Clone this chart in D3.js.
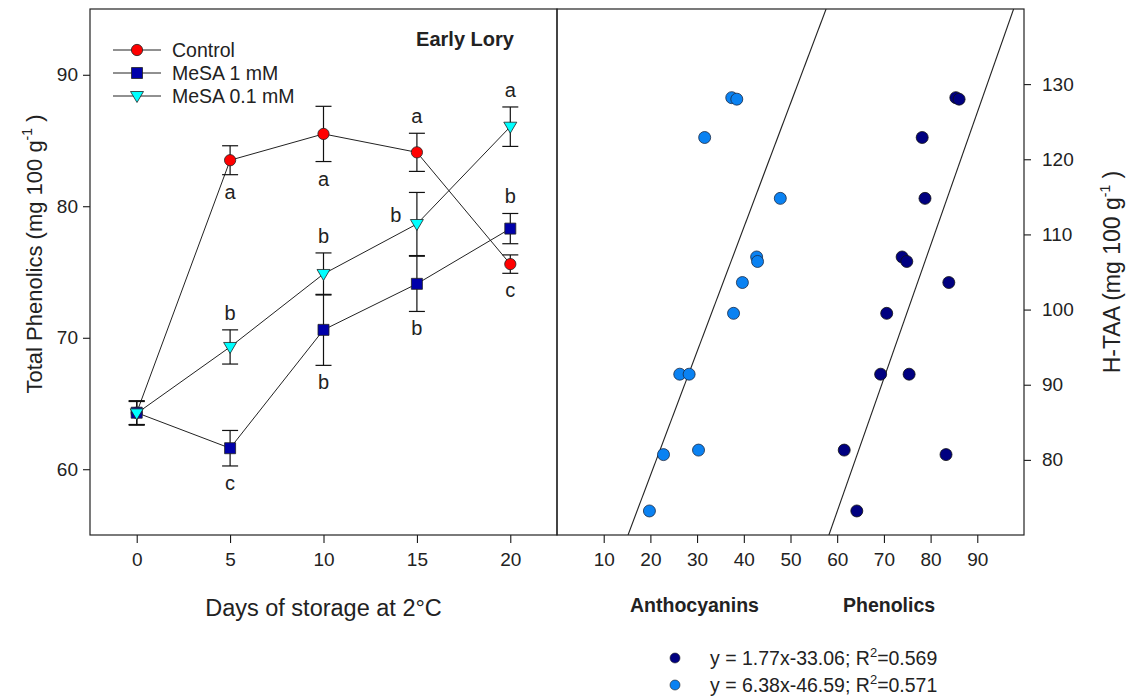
<!DOCTYPE html>
<html>
<head>
<meta charset="utf-8">
<script src="https://cdn.jsdelivr.net/npm/d3@7"></script>
<style>
  html, body { margin: 0; padding: 0; background: #fff; }
  svg { display: block; font-family: Arial, "Liberation Sans", sans-serif; }
</style>
</head>
<body>
<svg id="chart" width="1128" height="697"></svg>
<script>
// ---- Total phenolics during storage (left panel) ----
const days = [0, 5, 10, 15, 20];
const control   = [64.3, 83.5, 85.5, 84.1, 75.6];
const controlSE = [0.9, 1.1, 2.1, 1.45, 0.7];
const mesa1     = [64.3, 61.6, 70.6, 74.1, 78.3];
const mesa1SE   = [0.9, 1.35, 2.7, 2.1, 1.15];
const mesa01    = [64.25, 69.3, 74.85, 78.65, 86.05];
const mesa01SE  = [0.9, 1.3, 1.6, 2.4, 1.5];
const controlLetters = ["", "a", "a", "a", "c"];
const mesa1Letters   = ["", "c", "b", "b", "b"];
const mesa01Letters  = ["", "b", "b", "b", "a"];
const seriesNames = ["Control", "MeSA 1 mM", "MeSA 0.1 mM"];
const leftYTicks = [60, 70, 80, 90];
const leftXTicks = [0, 5, 10, 15, 20];

// ---- H-TAA correlations (right panel) ----
const htaa        = [128.2, 128.0, 122.9, 114.8, 107.0, 106.4, 103.6, 99.5, 91.4, 91.4, 81.3, 80.7, 73.2];
const phenolicsX  = [85.4, 86.1, 78.2, 78.8, 73.9, 74.9, 83.9, 70.6, 69.3, 75.4, 61.5, 83.3, 64.2];
const anthocyanX  = [24.02, 24.30, 22.52, 26.71, 25.40, 25.45, 24.61, 24.12, 21.14, 21.66, 22.18, 20.24, 19.46];
const phenolicsFit = { slope: 1.77, intercept: -33.06, r2: 0.569 };
const anthocyanFit = { slope: 6.38, intercept: -46.59, r2: 0.571 };
const rightXTicks = [10, 20, 30, 40, 50, 60, 70, 80, 90];
const rightYTicks = [80, 90, 100, 110, 120, 130];

const svg = d3.select("#chart");
const yTop = 9, yBottom = 535;
const lx0 = 90, lx1 = 557, rx1 = 1024;

const xDay  = d3.scaleLinear().domain([-2.5, 22.5]).range([lx0, lx1]);
const yPhen = d3.scaleLinear().domain([55, 95]).range([yBottom, yTop]);
const xCorr = d3.scaleLinear().domain([0, 100]).range([lx1, rx1]);
const xAnth = d3.scaleLinear().domain([14.34, 40.21]).range([lx1, rx1]);
const yTaa  = d3.scaleLinear().domain([70, 140]).range([yBottom, yTop]);

const tickFont = "19px";
const ink = "#222";

function styleAxis(g) {
  g.select(".domain").remove();
  g.selectAll(".tick line").attr("stroke", "#000").attr("stroke-width", 1);
  g.selectAll(".tick text").attr("fill", ink).style("font-size", tickFont)
    .style("font-family", "Arial, 'Liberation Sans', sans-serif");
}

// axes
svg.append("g").attr("transform", `translate(${lx0},0)`)
  .call(d3.axisLeft(yPhen).tickValues(leftYTicks).tickSize(7).tickPadding(5))
  .call(styleAxis);
svg.append("g").attr("transform", `translate(0,${yBottom})`)
  .call(d3.axisBottom(xDay).tickValues(leftXTicks).tickSize(8).tickPadding(10))
  .call(styleAxis);
svg.append("g").attr("transform", `translate(0,${yBottom})`)
  .call(d3.axisBottom(xCorr).tickValues(rightXTicks).tickSize(8).tickPadding(10))
  .call(styleAxis);
svg.append("g").attr("transform", `translate(${rx1},0)`)
  .call(d3.axisRight(yTaa).tickValues(rightYTicks).tickSize(7).tickPadding(11))
  .call(styleAxis);

// frames
svg.append("rect").attr("x", lx0).attr("y", yTop).attr("width", lx1 - lx0).attr("height", yBottom - yTop)
  .attr("fill", "none").attr("stroke", ink).attr("stroke-width", 1.2);
svg.append("rect").attr("x", lx1).attr("y", yTop).attr("width", rx1 - lx1).attr("height", yBottom - yTop)
  .attr("fill", "none").attr("stroke", ink).attr("stroke-width", 1.2);

// ---- left panel series ----
const series = [
  { name: seriesNames[0], vals: control, se: controlSE, letters: controlLetters, shape: "circle", fill: "#ff0000",
    place: ["", "below", "below", "above", "below"] },
  { name: seriesNames[1], vals: mesa1, se: mesa1SE, letters: mesa1Letters, shape: "square", fill: "#0000aa",
    place: ["", "below", "below", "below", "above"] },
  { name: seriesNames[2], vals: mesa01, se: mesa01SE, letters: mesa01Letters, shape: "triangle", fill: "#00ffff",
    place: ["", "above", "above", "left", "above"] }
];

const symbolPath = {
  circle: d3.symbol().type(d3.symbolCircle).size(100)(),
  square: d3.symbol().type(d3.symbolSquare).size(121)(),
  triangle: "M-6.5,-4.5L6.5,-4.5L0,6.5Z"
};

function drawMarker(g, shape, fill, x, y) {
  g.append("path").attr("d", symbolPath[shape])
    .attr("transform", `translate(${x},${y})`)
    .attr("fill", fill).attr("stroke", ink).attr("stroke-width", 0.8);
}

const line = d3.line().x(d => xDay(d[0])).y(d => yPhen(d[1]));
const gl = svg.append("g");
series.forEach(s => {
  gl.append("path").attr("d", line(days.map((d, i) => [d, s.vals[i]])))
    .attr("fill", "none").attr("stroke", ink).attr("stroke-width", 1);
});
series.forEach(s => {
  days.forEach((d, i) => {
    const x = xDay(d), yt = yPhen(s.vals[i] + s.se[i]), yb = yPhen(s.vals[i] - s.se[i]);
    gl.append("line").attr("x1", x).attr("x2", x).attr("y1", yt).attr("y2", yb).attr("stroke", "#111").attr("stroke-width", 1.2);
    [yt, yb].forEach(yy => gl.append("line").attr("x1", x - 8).attr("x2", x + 8).attr("y1", yy).attr("y2", yy)
      .attr("stroke", "#111").attr("stroke-width", 1.2));
  });
});
series.forEach(s => {
  days.forEach((d, i) => drawMarker(gl, s.shape, s.fill, xDay(d), yPhen(s.vals[i])));
});
// significance letters
series.forEach(s => {
  days.forEach((d, i) => {
    if (!s.letters[i]) return;
    let x = xDay(d), y;
    if (s.place[i] === "below") y = yPhen(s.vals[i] - s.se[i]) + 24;
    else if (s.place[i] === "above") y = yPhen(s.vals[i] + s.se[i]) - 10;
    else { x = x - 21; y = yPhen(s.vals[i]) - 2; }
    gl.append("text").attr("x", x).attr("y", y).attr("text-anchor", "middle")
      .style("font-size", "20px").attr("fill", ink).text(s.letters[i]);
  });
});

// legend
const lg = svg.append("g");
series.forEach((s, i) => {
  const y = 50 + i * 23;
  lg.append("line").attr("x1", 113).attr("x2", 161).attr("y1", y).attr("y2", y).attr("stroke", ink).attr("stroke-width", 1);
  drawMarker(lg, s.shape, s.fill, 137, y);
  lg.append("text").attr("x", 172).attr("y", y + 7).style("font-size", "19.5px").attr("fill", ink).text(s.name);
});
svg.append("text").attr("x", 465).attr("y", 46).attr("text-anchor", "middle")
  .style("font-size", "20px").style("font-weight", "bold").attr("fill", ink).text("Early Lory");

// ---- right panel ----
svg.append("clipPath").attr("id", "rclip").append("rect")
  .attr("x", lx1).attr("y", yTop).attr("width", rx1 - lx1).attr("height", yBottom - yTop);
const gr = svg.append("g").attr("clip-path", "url(#rclip)");

function fitLine(fit, xs) {
  const [y0, y1] = yTaa.domain();
  return [[xs((y0 - fit.intercept) / fit.slope), yTaa(y0)], [xs((y1 - fit.intercept) / fit.slope), yTaa(y1)]];
}
[[anthocyanFit, xAnth], [phenolicsFit, xCorr]].forEach(([fit, xs]) => {
  const p = fitLine(fit, xs);
  gr.append("line").attr("x1", p[0][0]).attr("y1", p[0][1]).attr("x2", p[1][0]).attr("y2", p[1][1])
    .attr("stroke", ink).attr("stroke-width", 1.1);
});

const darkBlue = "#000080", lightBlue = "#0a82f2";
gr.selectAll("circle.anth").data(htaa).enter().append("circle")
  .attr("cx", (d, i) => xAnth(anthocyanX[i])).attr("cy", d => yTaa(d)).attr("r", 6)
  .attr("fill", lightBlue).attr("stroke", "#1a2a44").attr("stroke-width", 0.8);
gr.selectAll("circle.phen").data(htaa).enter().append("circle")
  .attr("cx", (d, i) => xCorr(phenolicsX[i])).attr("cy", d => yTaa(d)).attr("r", 6)
  .attr("fill", darkBlue).attr("stroke", "#111").attr("stroke-width", 0.8);

// titles
function titleWithUnit(g, main) {
  g.append("tspan").text(main);
  g.append("tspan").attr("dy", -10).style("font-size", "14px").text("-1");
  g.append("tspan").attr("dy", 10).text(" )");
}
const ly = svg.append("text").attr("transform", "translate(42,254) rotate(-90)")
  .attr("text-anchor", "middle").style("font-size", "22px").attr("fill", ink);
titleWithUnit(ly, "Total Phenolics (mg 100 g");
const ry = svg.append("text").attr("transform", "translate(1120,272) rotate(-90)")
  .attr("text-anchor", "middle").style("font-size", "23px").attr("fill", ink);
titleWithUnit(ry, "H-TAA (mg 100 g");

svg.append("text").attr("x", (lx0 + lx1) / 2).attr("y", 616).attr("text-anchor", "middle")
  .style("font-size", "23.5px").attr("fill", ink).text("Days of storage at 2°C");
svg.append("text").attr("x", 630).attr("y", 612).style("font-size", "19.5px").style("font-weight", "bold")
  .attr("fill", ink).text("Anthocyanins");
svg.append("text").attr("x", 843).attr("y", 612).style("font-size", "19.5px").style("font-weight", "bold")
  .attr("fill", ink).text("Phenolics");

// regression legend
const fmt = v => v.toFixed(2);
[[phenolicsFit, darkBlue], [anthocyanFit, lightBlue]].forEach(([fit, col], i) => {
  const y = 658 + i * 27;
  svg.append("circle").attr("cx", 675).attr("cy", y).attr("r", 5).attr("fill", col).attr("stroke", ink).attr("stroke-width", 0.6);
  const t = svg.append("text").attr("x", 710).attr("y", y + 7).style("font-size", "19.5px").attr("fill", ink);
  t.append("tspan").text(`y = ${fmt(fit.slope)}x${fmt(fit.intercept)}; R`);
  t.append("tspan").attr("dy", -8).style("font-size", "13px").text("2");
  t.append("tspan").attr("dy", 8).text(`=${fit.r2.toFixed(3)}`);
});
</script>
</body>
</html>
